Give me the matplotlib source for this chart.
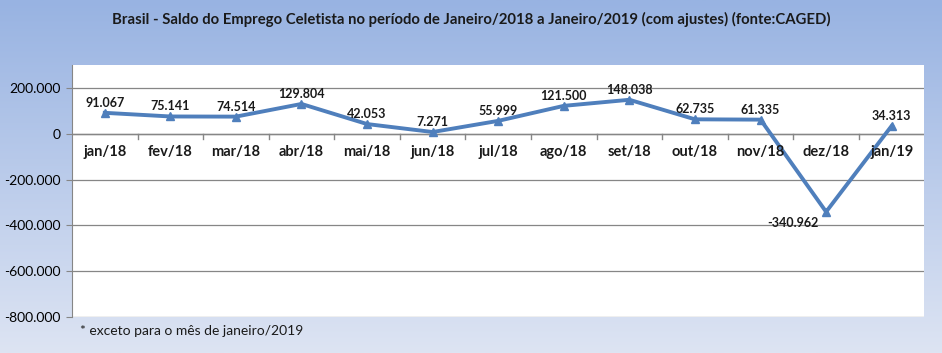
import numpy as np
import matplotlib
matplotlib.use('Agg')
import matplotlib.pyplot as plt
from matplotlib.ticker import FuncFormatter

# ── DATA ───────────────────────────────────────
months = ['jan/18', 'fev/18', 'mar/18', 'abr/18', 'mai/18', 'jun/18', 'jul/18',
          'ago/18', 'set/18', 'out/18', 'nov/18', 'dez/18', 'jan/19']
saldo = [91067, 75141, 74514, 129804, 42053, 7271, 55999,
         121500, 148038, 62735, 61335, -340962, 34313]
yticks = [-800000, -600000, -400000, -200000, 0, 200000]

plt.rcParams['font.family'] = ['Lato', 'DejaVu Sans']

def br(v, pos=None):
    return f'{v:,.0f}'.replace(',', '.')

fig = plt.figure(figsize=(9.42, 3.53), dpi=100)

# background gradient
bg = fig.add_axes([0, 0, 1, 1], zorder=-10)
top_c = np.array([0x98, 0xb3, 0xe2]) / 255
bot_c = np.array([0xdd, 0xe4, 0xf3]) / 255
t = np.linspace(0, 1, 256)[:, None]
grad = top_c * (1 - t[..., None]) + bot_c * t[..., None]
bg.imshow(grad, aspect='auto', extent=[0, 1, 0, 1])
bg.axis('off')

ax = fig.add_axes([0.0764, 0.102, 0.905, 0.714])
ax.set_facecolor('white')
x = np.arange(len(months))
ax.plot(x, saldo, color='#4f7fbc', lw=2.8, marker='^', ms=6, zorder=3)

ax.set_xlim(-0.5, len(months) - 0.5)
ax.set_ylim(-800000, 300000)
ax.set_yticks(yticks)
ax.yaxis.set_major_formatter(FuncFormatter(br))
ax.grid(axis='y', color='#868686', lw=0.9)
ax.set_axisbelow(True)
for s in ['top', 'right', 'bottom']:
    ax.spines[s].set_visible(False)
ax.spines['left'].set_color('#868686')
ax.tick_params(axis='y', length=4, color='#868686', labelsize=10, pad=4)

# category axis at zero
ax.axhline(0, color='#868686', lw=1, zorder=2)
ax.set_xticks([])
for i in range(1, len(months)):
    ax.plot([i - 0.5, i - 0.5], [0, -22000], color='#868686', lw=1, zorder=2)
for i, m in enumerate(months):
    ax.text(i, -80000, m, ha='center', va='center', fontsize=10.5,
            fontweight='bold', color='#1a1a1a')

for i, v in enumerate(saldo):
    if v < 0:
        ax.text(i - 0.12, v - 50000, br(v), ha='right', va='center',
                fontsize=9, fontweight='bold', color='#1a1a1a')
    else:
        ax.text(i, v + 44000, br(v), ha='center', va='center',
                fontsize=9, fontweight='bold', color='#1a1a1a')

fig.text(0.5, 0.945, 'Brasil - Saldo do Emprego Celetista no período de Janeiro/2018 a Janeiro/2019 (com ajustes) (fonte:CAGED)',
         ha='center', va='center', fontsize=10.7, fontweight='bold', color='#1a1a1a')
fig.text(0.085, 0.062, '* exceto para o mês de janeiro/2019',
         ha='left', va='center', fontsize=10, color='#1a1a1a')

fig.savefig('out.png', dpi=100)
